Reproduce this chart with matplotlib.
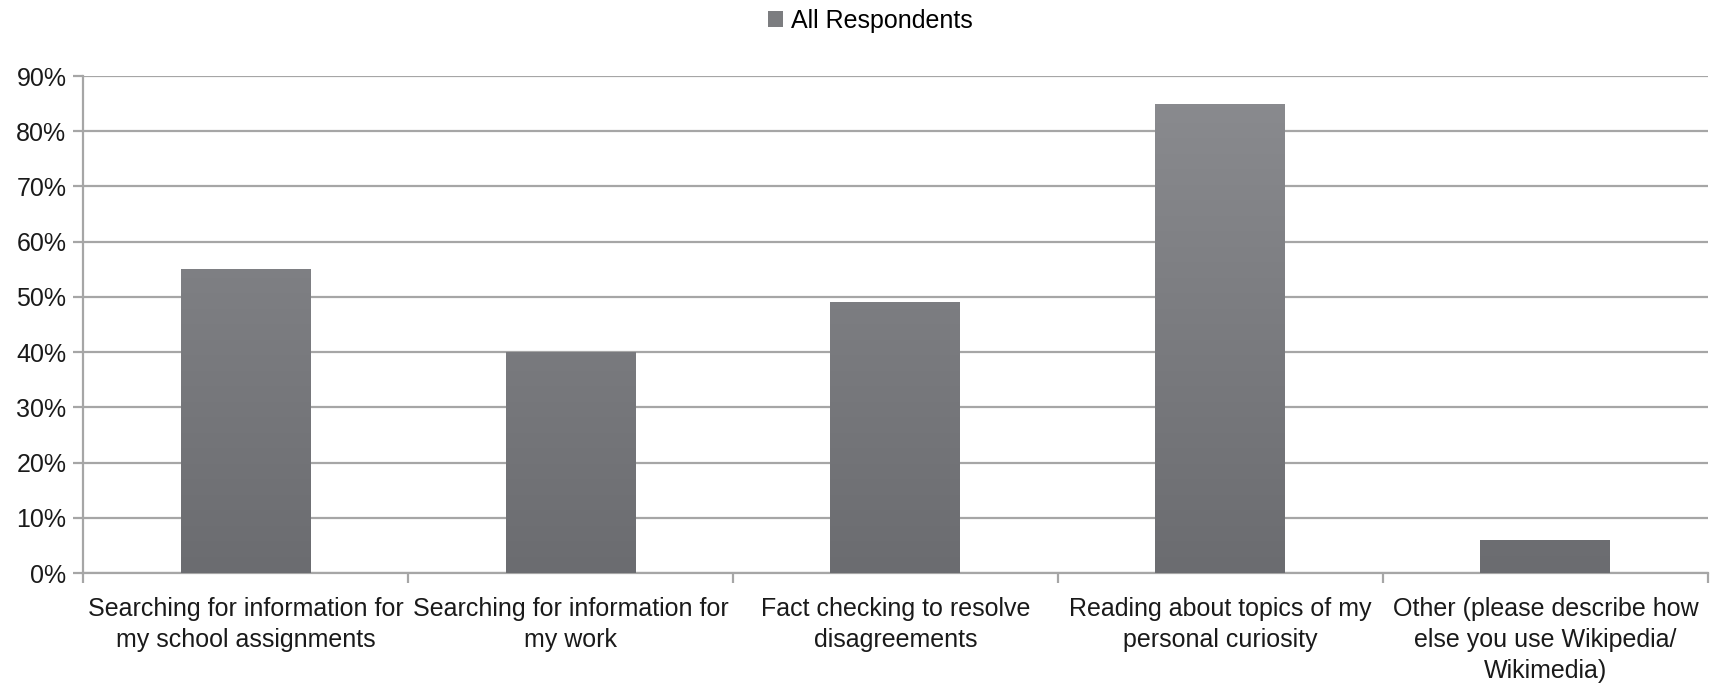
import numpy as np
import matplotlib
matplotlib.use('Agg')
import matplotlib.pyplot as plt
from matplotlib.ticker import MultipleLocator, FixedLocator, PercentFormatter
from matplotlib.colors import LinearSegmentedColormap
from matplotlib.patches import Patch

categories = ['Searching for information for\nmy school assignments',
              'Searching for information for\nmy work',
              'Fact checking to resolve\ndisagreements',
              'Reading about topics of my\npersonal curiosity',
              'Other (please describe how\nelse you use Wikipedia/\nWikimedia)']
values = [0.55, 0.40, 0.49, 0.85, 0.06]
series_name = 'All Respondents'

plt.rcParams['font.family'] = ['Liberation Sans', 'DejaVu Sans']

fig = plt.figure(figsize=(17.13, 6.85), dpi=100)
ax = fig.add_axes([0.0485, 0.1635, 0.9485, 0.7255])

x = np.arange(len(values))
bars = ax.bar(x, values, width=0.4, color='#7c7d80', edgecolor='none', zorder=3)

# vertical gradient inside each bar
cmap = LinearSegmentedColormap.from_list('g', ['#6b6c70', '#8b8c90'])
grad = np.linspace(0, 1, 256).reshape(-1, 1)
for b in bars:
    x0 = b.get_x()
    w = b.get_width()
    im = ax.imshow(grad, cmap=cmap, origin='lower', aspect='auto',
                   extent=(x0, x0 + w, 0, 0.9), zorder=4)
    im.set_clip_path(b)

ax.set_xlim(-0.5, len(values) - 0.5)
ax.set_ylim(0, 0.9)
ax.yaxis.set_major_locator(MultipleLocator(0.1))
ax.yaxis.set_major_formatter(PercentFormatter(1.0, decimals=0))
ax.grid(axis='y', color='#a6a6a6', linewidth=1.6, zorder=0)

ax.set_xticks(x)
ax.set_xticklabels(categories, fontsize=18, color='#1a1a1a', linespacing=1.38)
ax.tick_params(axis='x', which='major', length=0, pad=17)
ax.xaxis.set_minor_locator(FixedLocator(np.arange(-0.5, len(values), 1.0)))
ax.tick_params(axis='x', which='minor', length=7, width=1.6, color='#a6a6a6')
ax.tick_params(axis='y', length=7, width=1.6, color='#a6a6a6', labelsize=18,
               labelcolor='#1a1a1a', pad=5)

for s in ['top', 'right']:
    ax.spines[s].set_visible(False)
for s in ['left', 'bottom']:
    ax.spines[s].set_color('#a6a6a6')
    ax.spines[s].set_linewidth(1.6)

handle = Patch(facecolor='#7c7d80', edgecolor='none')
fig.legend([handle], [series_name], loc='upper center', bbox_to_anchor=(0.508, 1.02),
           frameon=False, fontsize=18, handlelength=0.6, handleheight=0.6,
           handletextpad=0.3)

fig.savefig('out.png', dpi=100)
